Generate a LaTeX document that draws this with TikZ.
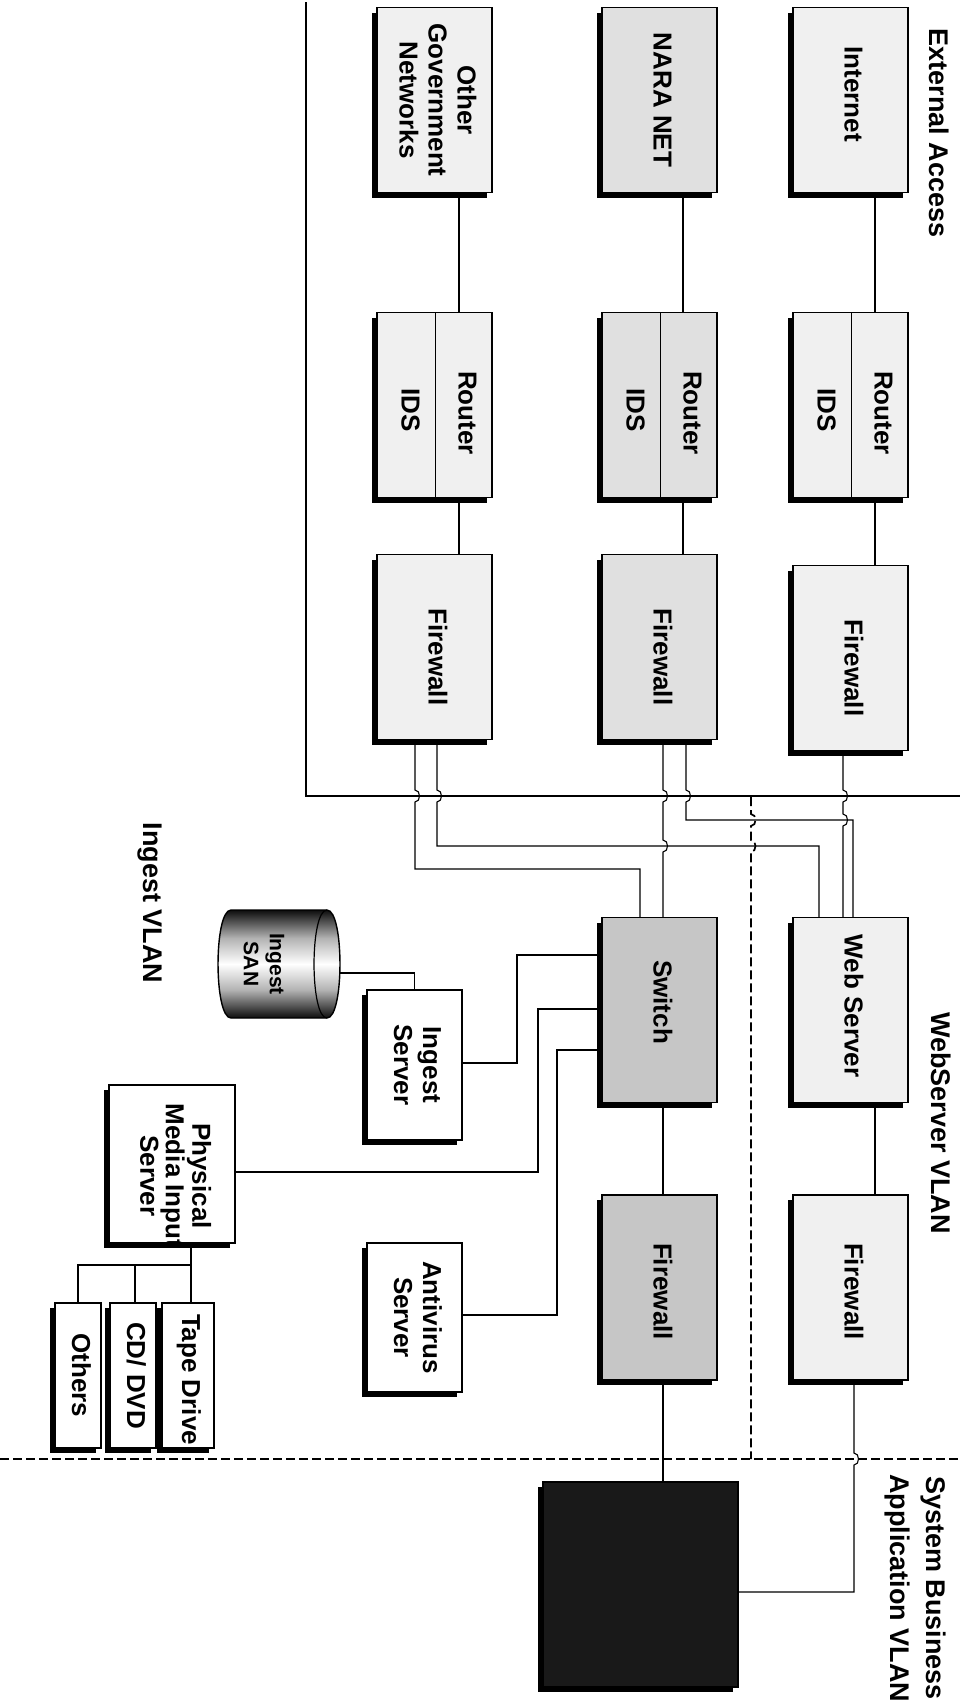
\documentclass[tikz,border=0pt]{standalone}
\usepackage{fontspec}
\setmainfont{Liberation Sans}
\usetikzlibrary{calc,shadows}
\pgfdeclareverticalshading{sancyl}{100bp}{color(0bp)=(black); color(24bp)=(black); color(38bp)=(gray!60); color(50bp)=(white); color(62bp)=(gray!60); color(76bp)=(black); color(100bp)=(black)}
\newcommand{\vtext}[1]{\rotatebox{-90}{\begin{tabular}{@{}c@{}}#1\end{tabular}}}
\begin{document}
\begin{tikzpicture}[x=1pt,y=-1pt,
  font=\bfseries\fontsize{26}{29}\selectfont,
  box/.style={draw=black, line width=1.4pt, inner sep=0pt, outer sep=0pt,
    drop shadow={shadow xshift=-5pt, shadow yshift=-5pt, fill=black, opacity=1}},
  colbox/.style={box, minimum width=115pt, minimum height=185pt},
  lightfill/.style={fill=gray!12},
  midfill/.style={fill=gray!24},
  darkfill/.style={fill=gray!45},
  plainfill/.style={fill=white},
  txt/.style={inner sep=0pt, outer sep=0pt},
  wire/.style={line width=1.1pt},
  frame/.style={line width=1.6pt},
  zone/.style={line width=1.7pt, dash pattern=on 9pt off 4pt},
  lbl/.style={inner sep=0pt, font=\bfseries\fontsize{27}{36}\selectfont}]

\fill[white] (0,0) rectangle (960,1701);
\useasboundingbox (0,0) rectangle (960,1701);

% zone boundaries
\draw[frame] (306,2) -- (306,796) -- (960,796);
\draw[zone] (0,1459) -- (960,1459);
\draw[zone] (751,797) -- (751,814) .. controls +(6,0) and +(6,0) .. (751,826) -- (751,840) .. controls +(6,0) and +(6,0) .. (751,852) -- (751,1459);

% labels
\node[lbl] (ext) at (937,133) {\vtext{External Access}};
\node[lbl] (wsv) at (939,1123) {\vtext{WebServer VLAN}};
\node[lbl] (ingv) at (151,903) {\vtext{Ingest VLAN}};
\node[lbl] (sbv) at (916,1588) {\vtext{System Business\\Application VLAN}};

% external access column
\node[colbox,lightfill] (other) at (434.5,100) {};
\node[txt] at (other) {\vtext{Other\\Government\\Networks}};
\node[colbox,midfill] (nara) at (659.5,100) {};
\node[txt] at (nara) {\vtext{NARA NET}};
\node[colbox,lightfill] (inet) at (850.5,100) {};
\node[txt] at ($(inet)+(0,-6)$) {\vtext{Internet}};

\node[colbox,lightfill] (rtr1) at (434.5,405) {};
\node[colbox,midfill] (rtr2) at (659.5,405) {};
\node[colbox,lightfill] (rtr3) at (850.5,405) {};
\foreach \r in {rtr1,rtr2,rtr3}{
  \draw[line width=1.4pt] ($(\r.north)+(1,0)$) -- ($(\r.south)+(1,0)$);
  \node[txt] at ($(\r)+(30,8)$) {\vtext{Router}};
  \node[txt] at ($(\r)+(-27,5)$) {\vtext{IDS}};
}

\node[colbox,lightfill] (fw1) at (434.5,647) {};
\node[txt] at ($(fw1)+(0,10)$) {\vtext{Firewall}};
\node[colbox,midfill] (fw2) at (659.5,647) {};
\node[txt] at ($(fw2)+(0,10)$) {\vtext{Firewall}};
\node[colbox,lightfill] (fw3) at (850.5,658) {};
\node[txt] at ($(fw3)+(0,10)$) {\vtext{Firewall}};

% web server / switch
\node[colbox,lightfill] (ws) at (850.5,1010) {};
\node[txt] at ($(ws)+(0,-4)$) {\vtext{Web Server}};
\node[colbox,darkfill] (sw) at (659.5,1010) {};
\node[txt] at ($(sw)+(0,-8)$) {\vtext{Switch}};
\node[colbox,lightfill] (fwa) at (850.5,1287.5) {};
\node[txt] at ($(fwa)+(0,4)$) {\vtext{Firewall}};
\node[colbox,darkfill] (fwb) at (659.5,1287.5) {};
\node[txt] at ($(fwb)+(0,4)$) {\vtext{Firewall}};

\node[box, fill=black!90, minimum width=195pt, minimum height=205pt] (sys) at (640.5,1584.5) {};

% ingest side
\shadedraw[shading=sancyl, draw=black, line width=1.4pt] (327,910) .. controls (344.3,910) and (344.3,1018) .. (327,1018) -- (231,1018) .. controls (213.7,1018) and (213.7,910) .. (231,910) -- cycle;
\draw[line width=1.2pt] (327,910) .. controls (309.7,910) and (309.7,1018) .. (327,1018);
\node[txt, minimum width=122pt, minimum height=108pt] (san) at (279,964) {};
\node[txt, font=\bfseries\fontsize{21}{26}\selectfont] at (262,964) {\vtext{Ingest\\SAN}};

\node[box,plainfill,minimum width=95pt,minimum height=150pt] (ing) at (414.5,1065) {};
\node[txt] at (ing) {\vtext{Ingest\\Server}};
\node[box,plainfill,minimum width=95pt,minimum height=149pt] (av) at (414.5,1317.5) {};
\node[txt] at (av) {\vtext{Antivirus\\Server}};
\node[box,plainfill,minimum width=126pt,minimum height=158pt] (pmis) at (172,1164) {};
\node[txt, font=\bfseries\fontsize{26}{25}\selectfont] at ($(pmis)+(0,12)$) {\vtext{Physical\\Media Input\\Server}};
\node[box,plainfill,minimum width=52pt,minimum height=145pt] (tape) at (188,1375.5) {};
\node[txt] at ($(tape)+(0,4)$) {\vtext{Tape Drive}};
\node[box,plainfill,minimum width=46pt,minimum height=145pt] (cd) at (133,1375.5) {};
\node[txt] at (cd) {\vtext{CD/ DVD}};
\node[box,plainfill,minimum width=46pt,minimum height=145pt] (others) at (78,1375.5) {};
\node[txt] at (others) {\vtext{Others}};

% connectors: external access
\draw[wire] ($(other.south)+(24.5,0)$) -- ($(rtr1.north)+(24.5,0)$);
\draw[wire] ($(nara.south)+(23.5,0)$) -- ($(rtr2.north)+(23.5,0)$);
\draw[wire] ($(inet.south)+(24.5,0)$) -- ($(rtr3.north)+(24.5,0)$);
\draw[wire] ($(rtr1.south)+(24.5,0)$) -- ($(fw1.north)+(24.5,0)$);
\draw[wire] ($(rtr2.south)+(23.5,0)$) -- ($(fw2.north)+(23.5,0)$);
\draw[wire] ($(rtr3.south)+(24.5,0)$) -- ($(fw3.north)+(24.5,0)$);

% firewalls to web server and switch
\draw[wire] ($(fw1.south)+(-19.5,0)$) -- (415,790) .. controls +(6,0) and +(6,0) .. (415,802) -- (415,869) -- (640,869) -- ($(sw.north)+(-19.5,0)$);
\draw[wire] ($(fw1.south)+(2.5,0)$) -- (437,790) .. controls +(6,0) and +(6,0) .. (437,802) -- (437,846) -- (819,846) -- ($(ws.north)+(-31.5,0)$);
\draw[wire] ($(fw2.south)+(3.5,0)$) -- (663,790) .. controls +(6,0) and +(6,0) .. (663,802) -- (663,840) .. controls +(6,0) and +(6,0) .. (663,852) -- ($(sw.north)+(3.5,0)$);
\draw[wire] ($(fw2.south)+(26.5,0)$) -- (686,790) .. controls +(6,0) and +(6,0) .. (686,802) -- (686,820) -- (853,820) -- ($(ws.north)+(2.5,0)$);
\draw[wire] ($(fw3.south)+(-7.5,0)$) -- (843,790) .. controls +(6,0) and +(6,0) .. (843,802) -- (843,814) .. controls +(6,0) and +(6,0) .. (843,826) -- ($(ws.north)+(-7.5,0)$);

% down to business VLAN
\draw[wire] ($(ws.south)+(24.5,0)$) -- ($(fwa.north)+(24.5,0)$);
\draw[wire] ($(sw.south)+(3.5,0)$) -- ($(fwb.north)+(3.5,0)$);
\draw[wire] ($(fwa.south)+(3.5,0)$) -- (854,1453) .. controls +(6,0) and +(6,0) .. (854,1465) -- (854,1592) -- ($(sys.east)+(0,7.5)$);
\draw[wire] ($(fwb.south)+(3.5,0)$) -- ($(sys.north)+(22.5,0)$);

% ingest VLAN connectors
\draw[wire] ($(san.east)+(0,9)$) -- (414.5,973) -- (ing.north);
\draw[wire] ($(ing.east)+(0,-2)$) -- (517,1063) -- (517,955) -- ($(sw.west)+(0,-55)$);
\draw[wire] ($(pmis.east)+(0,8)$) -- (538,1172) -- (538,1009) -- ($(sw.west)+(0,-1)$);
\draw[wire] ($(sw.west)+(0,40)$) -- (557,1050) -- (557,1315) -- ($(av.east)+(0,-2.5)$);
\draw[wire] ($(pmis.south)+(19,0)$) -- ($(tape.north)+(3,0)$);
\draw[wire] (191,1265) -| (others.north);
\draw[wire] (135,1265) -- ($(cd.north)+(2,0)$);
\end{tikzpicture}
\end{document}
